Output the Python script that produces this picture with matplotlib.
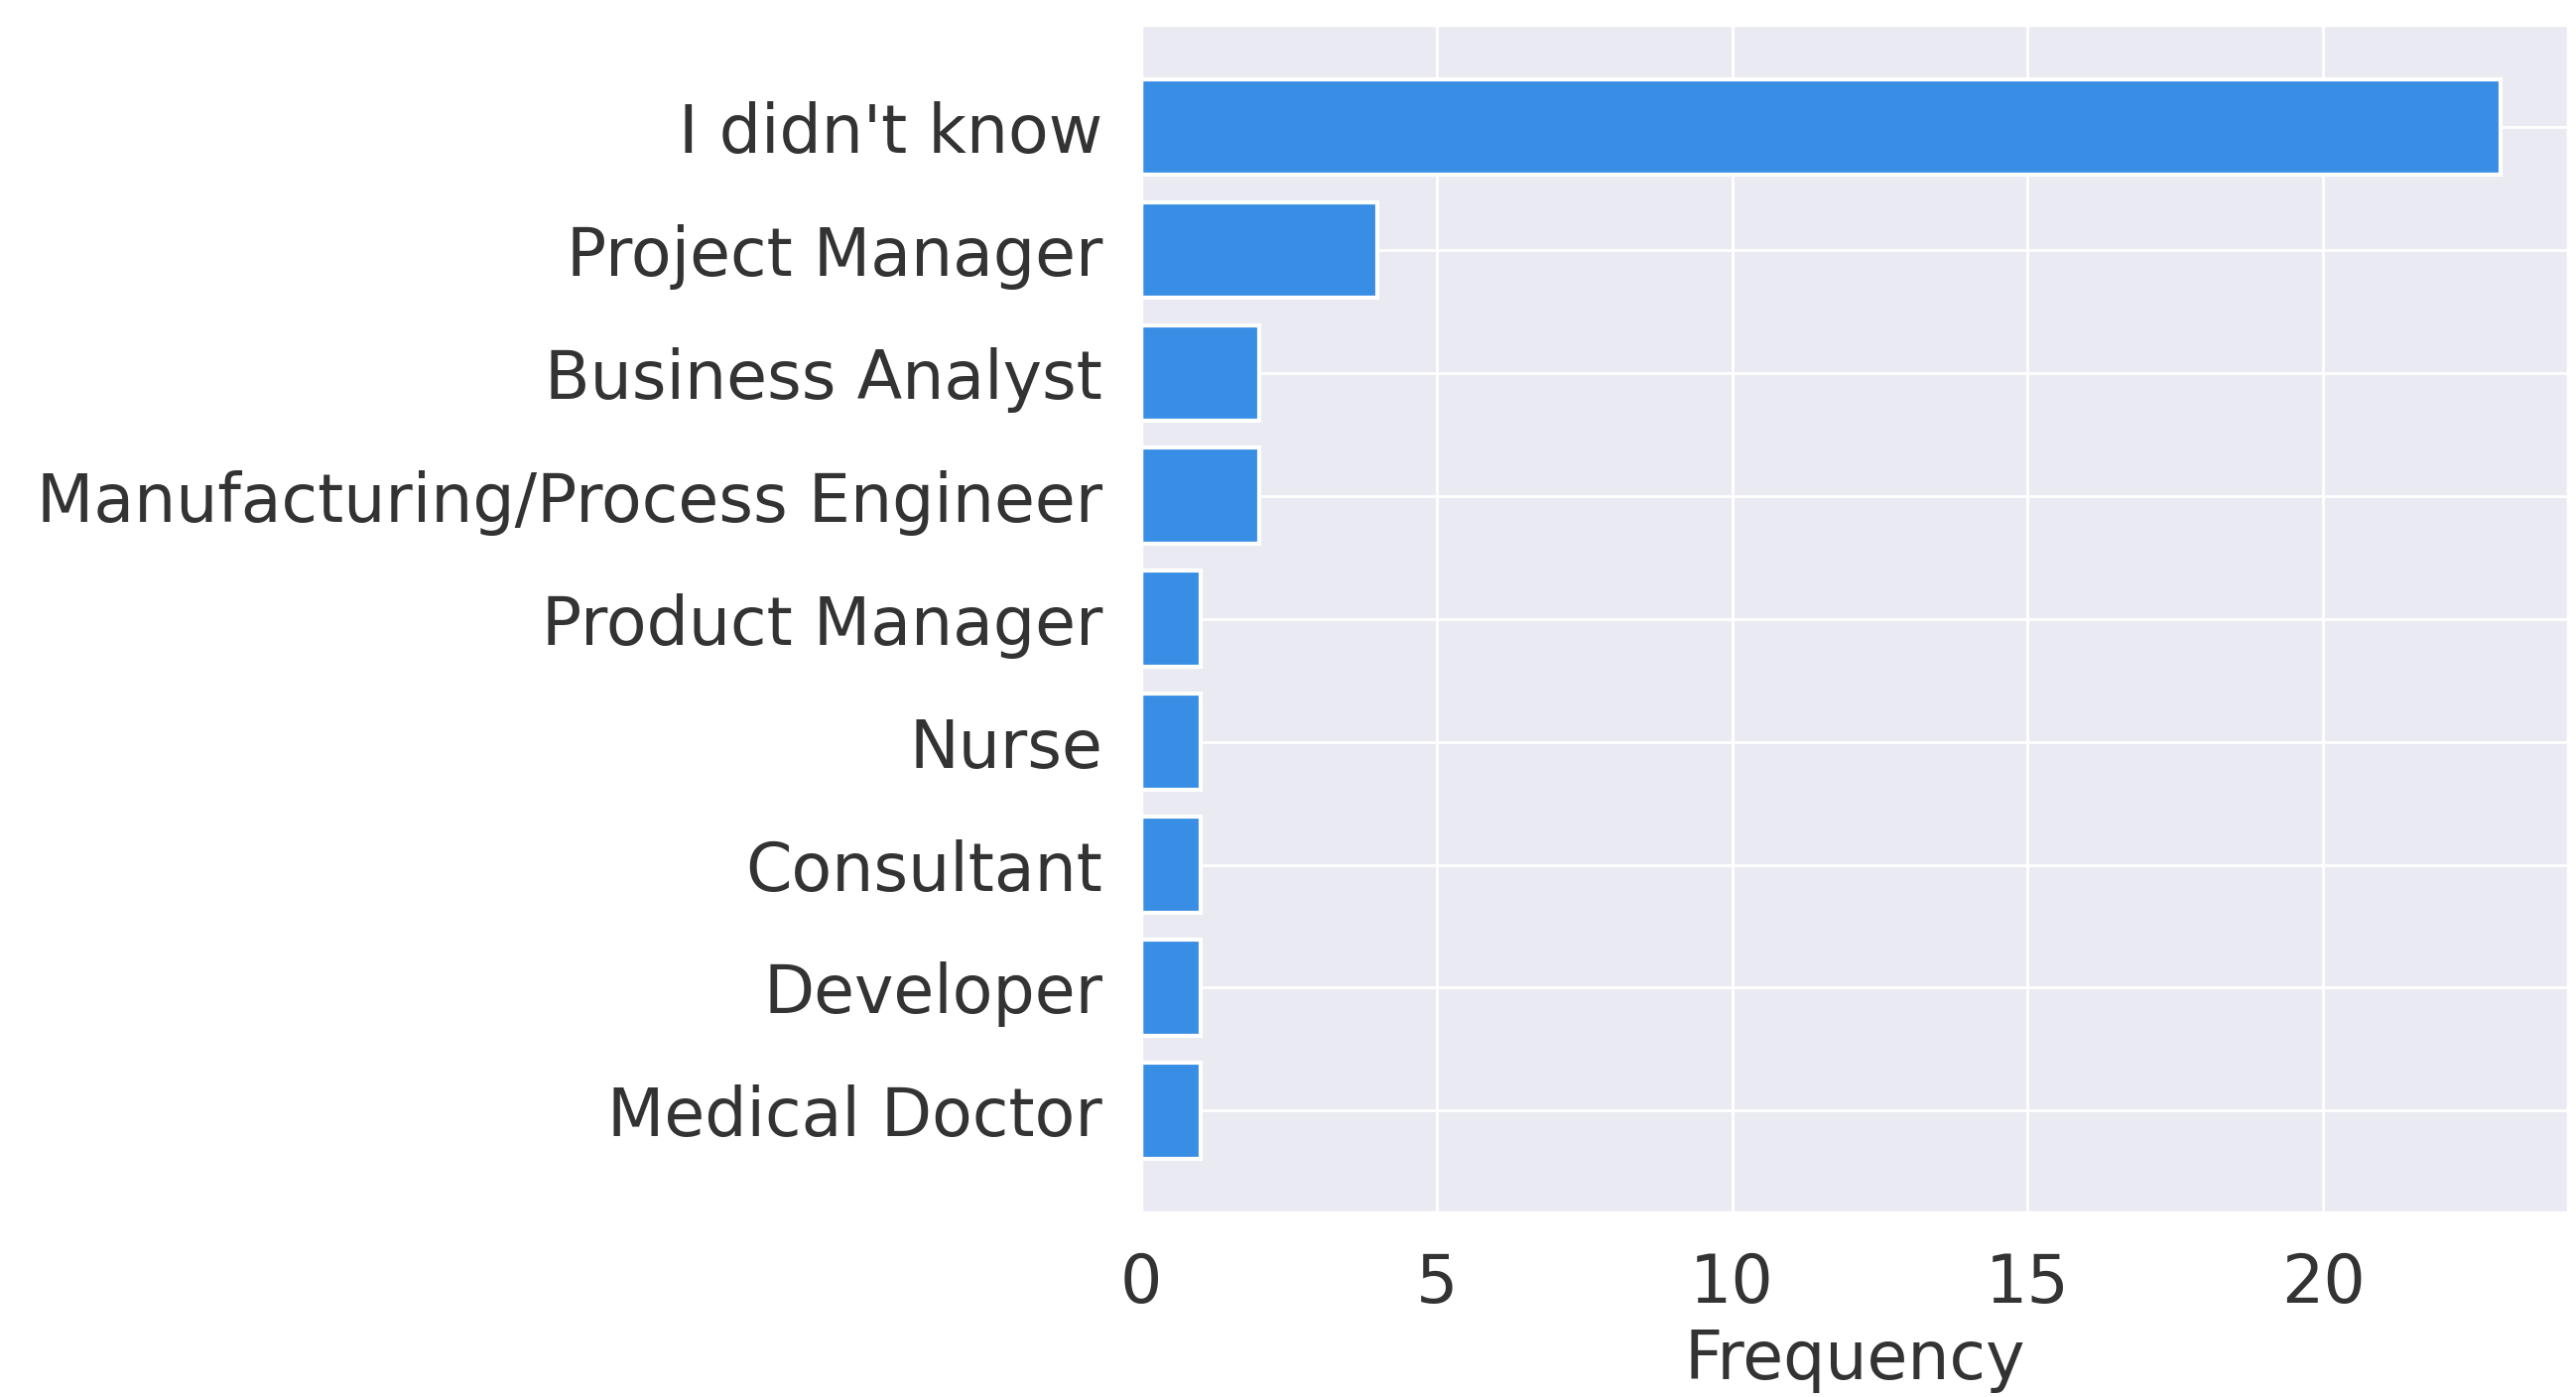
import matplotlib
matplotlib.use("Agg")
import matplotlib.pyplot as plt
import seaborn as sns

# Job titles and how often each was answered
titles = [
    "I didn't know",
    "Project Manager",
    "Business Analyst",
    "Manufacturing/Process Engineer",
    "Product Manager",
    "Nurse",
    "Consultant",
    "Developer",
    "Medical Doctor",
]
counts = [23, 4, 2, 2, 1, 1, 1, 1, 1]

sns.set_theme(style="darkgrid")
plt.rcParams["font.family"] = ["DejaVu Sans"]

fig, ax = plt.subplots(figsize=(12.98, 7.04), dpi=200)
fig.subplots_adjust(left=0.443, right=0.997, top=0.982, bottom=0.132)

ax.barh(titles, counts, height=0.78, color="#388ee5", edgecolor="white", linewidth=1.5)
ax.invert_yaxis()

ax.set_xlabel("Frequency", fontsize=24, labelpad=4)
ax.tick_params(axis="y", labelsize=24, pad=8)
ax.tick_params(axis="x", labelsize=24, pad=8)
for lbl in ax.get_xticklabels() + ax.get_yticklabels():
    lbl.set_color("#333333")
ax.xaxis.label.set_color("#333333")

fig.savefig("out.png", dpi=200)
